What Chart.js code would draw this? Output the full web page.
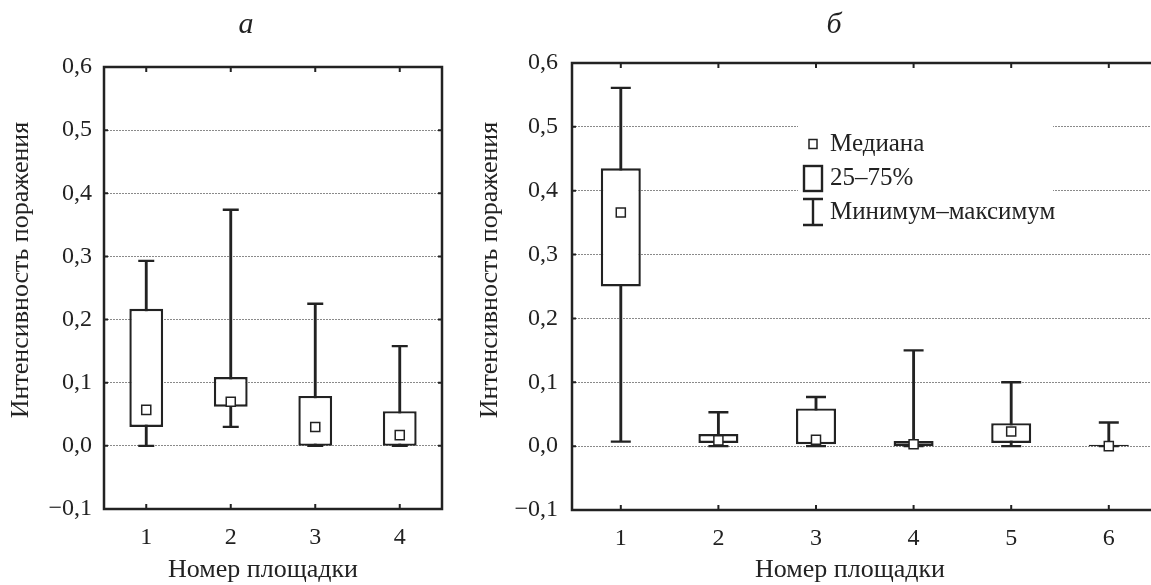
<!DOCTYPE html>
<html>
<head>
<meta charset="utf-8">
<script src="https://cdn.jsdelivr.net/npm/chart.js@4.4.0/dist/chart.umd.min.js"></script>
<style>
html, body { margin: 0; padding: 0; background: #fff; overflow: hidden; }
#wrap { position: relative; width: 1151px; height: 585px; overflow: hidden; }
#left { position: absolute; left: 0; top: 0; }
#right { position: absolute; left: 470px; top: 0; }
</style>
</head>
<body>
<div id="wrap">
  <canvas id="left" width="470" height="585"></canvas>
  <canvas id="right" width="700" height="585"></canvas>
</div>
<script>
// panel а
var sitesA = ['1', '2', '3', '4'];
var minA = [0.000, 0.030, 0.000, 0.000];
var q1A  = [0.030, 0.062, 0.000, 0.000];
var medA = [0.057, 0.070, 0.030, 0.017];
var q3A  = [0.217, 0.109, 0.079, 0.055];
var maxA = [0.293, 0.374, 0.225, 0.158];

// panel б
var sitesB = ['1', '2', '3', '4', '5', '6'];
var minB = [0.007, 0.000, 0.000, 0.000, 0.000, 0.000];
var q1B  = [0.250, 0.005, 0.003, 0.000, 0.005, 0.000];
var medB = [0.366, 0.009, 0.010, 0.003, 0.023, 0.000];
var q3B  = [0.435, 0.019, 0.059, 0.008, 0.036, 0.002];
var maxB = [0.561, 0.053, 0.077, 0.150, 0.100, 0.037];

var yMin = -0.1, yMax = 0.6, yStep = 0.1;
var xTitle = 'Номер площадки';
var yTitle = 'Интенсивность поражения';
var legendText = ['Медиана', '25–75%', 'Минимум–максимум'];

var INK = '#222';
var FONT = "'Liberation Serif', 'Times New Roman', serif";

function fmt(v) {
    var s = Math.abs(v).toFixed(1).replace('.', ',');
    return v < -1e-9 ? '−' + s : s;
}

var panelPlugin = {
    id: 'panel',
    beforeDatasetsDraw: function(chart, args, o) {
        if (!o.legend) return;
        var ctx = chart.ctx, L = o.legend;
        ctx.save();
        ctx.fillStyle = '#fff';
        ctx.fillRect(L.x0, L.y0, L.x1 - L.x0, L.y1 - L.y0);
        ctx.strokeStyle = INK;
        // median marker
        ctx.lineWidth = 1.5;
        ctx.strokeRect(L.ix - 4, L.rows[0] - 4.5, 8, 9);
        // box
        ctx.lineWidth = 2.4;
        ctx.strokeRect(L.ix - 9, L.rows[1] - 12, 18, 25);
        // whisker
        ctx.beginPath();
        ctx.moveTo(L.ix, L.rows[2] - 13); ctx.lineTo(L.ix, L.rows[2] + 13);
        ctx.moveTo(L.ix - 10, L.rows[2] - 13); ctx.lineTo(L.ix + 10, L.rows[2] - 13);
        ctx.moveTo(L.ix - 10, L.rows[2] + 13); ctx.lineTo(L.ix + 10, L.rows[2] + 13);
        ctx.stroke();
        ctx.fillStyle = INK;
        ctx.font = '25px ' + FONT;
        ctx.textBaseline = 'middle';
        ctx.textAlign = 'left';
        for (var i = 0; i < legendText.length; i++) {
            ctx.fillText(legendText[i], L.tx, L.rows[i]);
        }
        ctx.restore();
    },
    afterDraw: function(chart, args, o) {
        var ctx = chart.ctx, a = chart.chartArea;
        var xs = chart.scales.x, ys = chart.scales.y;
        ctx.save();
        ctx.strokeStyle = INK;
        ctx.lineWidth = 2.5;
        ctx.strokeRect(a.left, a.top, a.right - a.left, a.bottom - a.top);
        ctx.lineWidth = 2;
        ctx.beginPath();
        xs.ticks.forEach(function(t, i) {
            var x = xs.getPixelForTick(i);
            ctx.moveTo(x, a.top); ctx.lineTo(x, a.top + 5);
            ctx.moveTo(x, a.bottom); ctx.lineTo(x, a.bottom - 5);
        });
        ys.ticks.forEach(function(t) {
            var y = ys.getPixelForValue(t.value);
            ctx.moveTo(a.left, y); ctx.lineTo(a.left + 4, y);
            ctx.moveTo(a.right, y); ctx.lineTo(a.right - 4, y);
        });
        ctx.stroke();
        ctx.fillStyle = INK;
        ctx.textAlign = 'center';
        o.texts.forEach(function(t) {
            ctx.save();
            ctx.font = t.font;
            ctx.translate(t.x, t.y);
            if (t.rot) ctx.rotate(t.rot);
            ctx.textBaseline = t.base || 'middle';
            ctx.fillText(t.text, 0, 0);
            ctx.restore();
        });
        ctx.restore();
    }
};

function makeChart(id, labels, mins, q1, med, q3, maxs, look) {
    var ctx = document.getElementById(id).getContext('2d');
    return new Chart(ctx, {
        type: 'bar',
        data: {
            labels: labels,
            datasets: [{
                label: 'Минимум–максимум',
                data: labels.map(function(l, i) { return [mins[i], maxs[i]]; }),
                backgroundColor: INK,
                borderWidth: 0,
                barThickness: 2.2,
                grouped: false,
                order: 3
            }, {
                label: '25–75%',
                data: labels.map(function(l, i) { return [q1[i], q3[i]]; }),
                backgroundColor: '#fff',
                borderColor: INK,
                borderWidth: 2.4,
                borderSkipped: false,
                barPercentage: look.box,
                categoryPercentage: 1,
                grouped: false,
                order: 1
            }, {
                type: 'line',
                label: 'max',
                data: maxs,
                showLine: false,
                pointStyle: 'line',
                pointRadius: look.cap,
                pointBorderWidth: 2.4,
                borderColor: INK,
                order: 2
            }, {
                type: 'line',
                label: 'min',
                data: mins,
                showLine: false,
                pointStyle: 'line',
                pointRadius: look.cap,
                pointBorderWidth: 2.4,
                borderColor: INK,
                order: 2
            }, {
                type: 'line',
                label: 'Медиана',
                data: med,
                showLine: false,
                pointStyle: 'rect',
                pointRadius: 6.4,
                pointBackgroundColor: '#fff',
                pointBorderColor: INK,
                pointBorderWidth: 1.5,
                order: 0
            }]
        },
        options: {
            responsive: false,
            animation: false,
            events: [],
            layout: { padding: { left: 0, top: look.top, right: look.right, bottom: 0 } },
            scales: {
                x: {
                    offset: true,
                    grid: { display: false },
                    border: { display: false },
                    ticks: { color: INK, font: { family: FONT, size: 24 }, padding: 6 },
                    afterFit: function(s) { s.height = look.xh; }
                },
                y: {
                    min: yMin,
                    max: yMax,
                    ticks: {
                        stepSize: yStep,
                        color: INK,
                        font: { family: FONT, size: 24 },
                        padding: look.ypad,
                        callback: fmt
                    },
                    grid: {
                        drawTicks: false,
                        lineWidth: 1,
                        color: function(c) {
                            var v = c.tick ? c.tick.value : 0;
                            if (Math.abs(v - yMax) < 1e-6 || Math.abs(v - yMin) < 1e-6) return 'rgba(0,0,0,0)';
                            return '#8a8a8a';
                        }
                    },
                    border: { display: false, dash: [2, 1] },
                    afterFit: function(s) { s.width = look.yw; }
                }
            },
            plugins: {
                legend: { display: false },
                tooltip: { enabled: false },
                panel: { texts: look.texts, legend: look.legend }
            }
        },
        plugins: [panelPlugin]
    });
}

makeChart('left', sitesA, minA, q1A, medA, q3A, maxA, {
    top: 67, right: 28, yw: 104, xh: 76, ypad: 12, box: 0.4, cap: 8,
    texts: [
        { text: 'а', x: 246, y: 33, base: 'alphabetic', font: 'italic 30px ' + FONT },
        { text: yTitle, x: 21, y: 270, rot: -Math.PI / 2, font: '26px ' + FONT },
        { text: xTitle, x: 263, y: 570, font: '26px ' + FONT }
    ],
    legend: null
});

makeChart('right', sitesB, minB, q1B, medB, q3B, maxB, {
    top: 63, right: 10, yw: 102, xh: 75, ypad: 14, box: 0.41, cap: 10,
    texts: [
        { text: 'б', x: 364, y: 33, base: 'alphabetic', font: 'italic 30px ' + FONT },
        { text: yTitle, x: 20, y: 270, rot: -Math.PI / 2, font: '26px ' + FONT },
        { text: xTitle, x: 380, y: 570, font: '26px ' + FONT }
    ],
    legend: { x0: 328, x1: 583, y0: 118, y1: 238, ix: 343, tx: 360, rows: [144, 178, 212] }
});
</script>
</body>
</html>
